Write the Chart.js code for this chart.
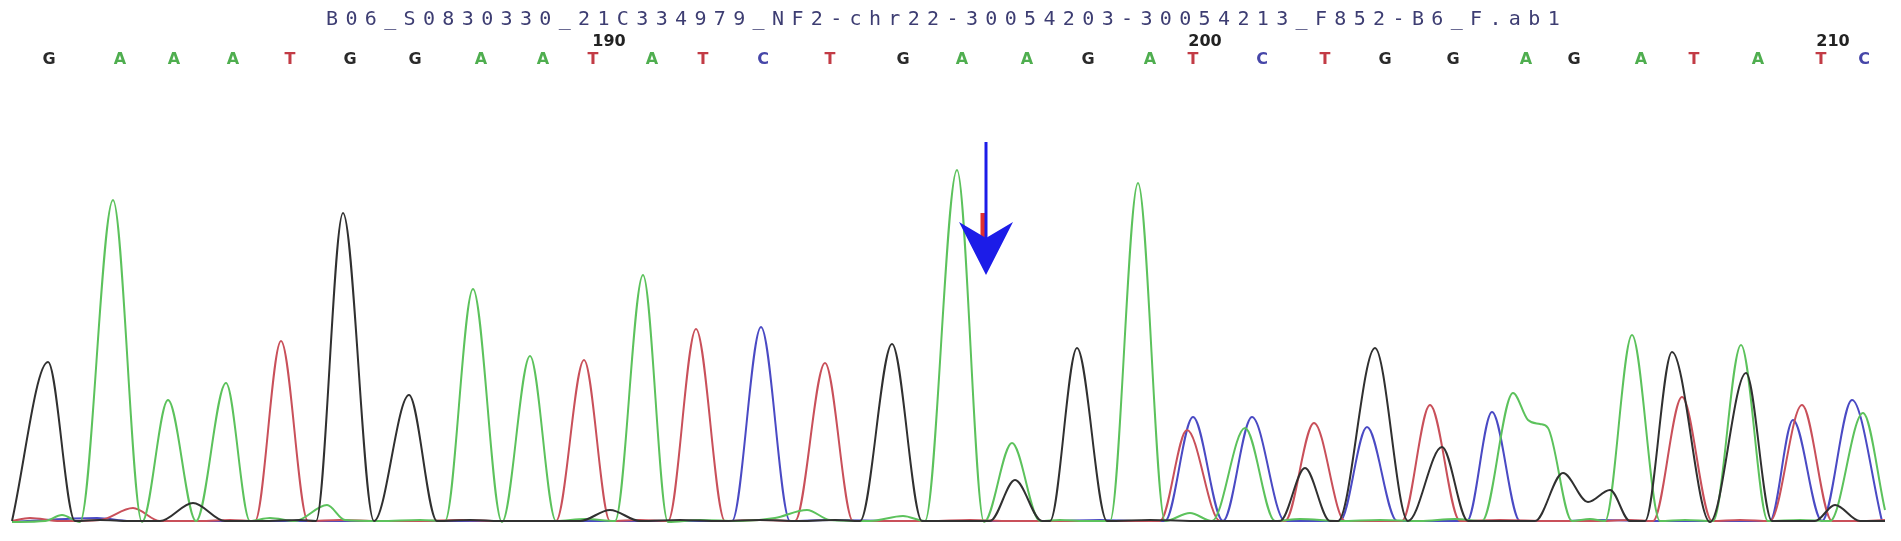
<!DOCTYPE html>
<html>
<head>
<meta charset="utf-8">
<script src="https://cdn.jsdelivr.net/npm/chart.js@4.4.1/dist/chart.umd.min.js"></script>
<style>
  html, body { margin: 0; padding: 0; background: #fff; }
  #wrap { position: relative; width: 1901px; height: 541px; }
  #title {
    position: absolute; left: 326px; top: 8px; z-index: 2;
    font-family: "DejaVu Sans Mono", monospace; font-size: 20px; line-height: 21px;
    letter-spacing: 7.35px; color: #3d3d72; white-space: nowrap;
  }
</style>
</head>
<body>
<div id="wrap">
  <div id="title">B06_S0830330_21C334979_NF2-chr22-30054203-30054213_F852-B6_F.ab1</div>
  <canvas id="trace"></canvas>
</div>
<script>
// Base calls along the top and where they sit on the scan axis
const baseCalls = ["G","A","A","A","T","G","G","A","A","T","A","T","C","T","G","A","A","G","A","T","C","T","G","G","A","G","A","T","A","T","C"];
const basePos = [49,120,174,233,290,350,415,481,543,593,652,703,763,830,903,962,1027,1088,1150,1193,1262,1325,1385,1453,1526,1574,1641,1694,1758,1821,1864];

// Position numbers above the base row
const numberLabels = ["190","200","210"];
const numberPos = [609,1205,1833];

// Trace points [scan, signal]
const traceA = [
  [12,2],[45,3],[62,9],[80,2],[113,324],[142,2],[168,124],[196,3],[226,141],[250,3],[270,6],[295,3],
  [327,19],[345,4],[380,3],[420,4],[445,3],[473,235],[502,2],[530,168],[556,3],[585,5],[615,3],[643,249],
  [668,2],[700,4],[740,3],[775,6],[807,14],[830,4],[870,3],[903,8],[925,3],[957,354],[984,2],[1012,81],
  [1040,3],[1060,4],[1085,3],[1110,3],[1138,341],[1165,3],[1190,11],[1212,3],[1245,96],[1275,3],[1300,5],
  [1340,3],[1380,4],[1420,3],[1455,5],[1482,3],[1513,131],[1528,104],[1540,100],[1548,96],[1572,3],[1590,5],
  [1605,3],[1632,189],[1660,3],[1685,4],[1713,3],[1741,179],[1768,3],[1800,4],[1830,3],[1863,111],[1885,14]
];
const traceG = [
  [12,3],[48,162],[75,3],[100,4],[130,3],[160,3],[193,21],[225,3],[260,3],[300,4],[316,3],[343,311],
  [374,3],[409,129],[437,3],[470,4],[500,3],[540,3],[580,3],[610,14],[640,3],[680,4],[720,3],[760,4],
  [800,3],[835,4],[860,3],[892,180],[922,3],[945,3],[990,3],[1015,44],[1042,3],[1050,3],[1077,176],
  [1107,3],[1150,4],[1200,3],[1250,3],[1280,3],[1305,56],[1330,3],[1338,3],[1375,176],[1408,3],[1442,77],
  [1468,3],[1500,3],[1535,3],[1563,51],[1588,22],[1610,34],[1630,3],[1645,3],[1672,172],[1710,2],
  [1746,151],[1772,3],[1800,3],[1815,3],[1835,19],[1860,3],[1885,3]
];
const traceT = [
  [12,3],[30,6],[60,3],[100,4],[133,16],[160,3],[200,3],[230,4],[255,3],[281,183],[308,3],[340,4],
  [380,3],[420,3],[460,4],[500,3],[530,3],[556,3],[584,164],[610,3],[640,4],[668,3],[696,195],[725,3],
  [760,4],[795,3],[825,161],[853,3],[890,3],[930,3],[970,4],[1010,3],[1060,3],[1110,3],[1160,3],
  [1187,94],[1220,3],[1255,3],[1285,3],[1314,101],[1345,3],[1375,3],[1402,3],[1430,119],[1460,3],
  [1500,4],[1550,3],[1600,3],[1630,4],[1653,3],[1682,127],[1712,3],[1740,4],[1770,3],[1802,119],
  [1832,3],[1860,3],[1885,4]
];
const traceC = [
  [12,2],[97,6],[130,3],[200,3],[300,3],[400,3],[500,3],[600,3],[700,3],[732,3],[761,197],[790,3],
  [830,4],[900,3],[960,3],[1050,3],[1100,4],[1140,3],[1165,3],[1193,107],[1223,3],[1252,107],[1285,3],
  [1310,3],[1340,3],[1367,97],[1397,3],[1440,3],[1467,3],[1492,112],[1520,3],[1560,3],[1600,4],
  [1650,3],[1700,3],[1740,3],[1770,3],[1793,104],[1822,3],[1852,124],[1882,3]
];

const baseColors = { A: "#4fae4f", T: "#c23b45", C: "#4646a8", G: "#2a2a2a" };
const traceColors = { A: "#5cc25c", T: "#c9505a", C: "#4a4ac4", G: "#303030" };

// Marker arrow (scan / signal units)
const arrowX = 986, arrowTop = 382, arrowWing = 302, arrowNotch = 286, arrowTip = 249, arrowHalf = 27;

const arrowPlugin = {
  id: "arrow",
  afterDatasetsDraw(chart) {
    const ctx = chart.ctx, xs = chart.scales.x, ys = chart.scales.y;
    const px = xs.getPixelForValue(arrowX);
    ctx.save();
    // red mark peeking behind the blue arrow
    ctx.strokeStyle = "#e03030";
    ctx.lineWidth = 5;
    ctx.beginPath();
    ctx.moveTo(px - 3, ys.getPixelForValue(311));
    ctx.lineTo(px - 3, ys.getPixelForValue(266));
    ctx.stroke();
    // blue shaft
    ctx.strokeStyle = "#1c1ce8";
    ctx.lineWidth = 3;
    ctx.beginPath();
    ctx.moveTo(px, ys.getPixelForValue(arrowTop));
    ctx.lineTo(px, ys.getPixelForValue(arrowNotch));
    ctx.stroke();
    // head
    ctx.fillStyle = "#1c1ce8";
    ctx.beginPath();
    ctx.moveTo(xs.getPixelForValue(arrowX - arrowHalf), ys.getPixelForValue(arrowWing));
    ctx.lineTo(px, ys.getPixelForValue(arrowNotch));
    ctx.lineTo(xs.getPixelForValue(arrowX + arrowHalf), ys.getPixelForValue(arrowWing));
    ctx.lineTo(px, ys.getPixelForValue(arrowTip));
    ctx.closePath();
    ctx.fill();
    ctx.restore();
  }
};

function traceSet(points, base) {
  return {
    label: base,
    data: points.map(p => ({ x: p[0], y: p[1] })),
    borderColor: traceColors[base],
    borderWidth: 2,
    pointRadius: 0,
    fill: false,
    cubicInterpolationMode: "monotone"
  };
}

new Chart(document.getElementById("trace"), {
  type: "line",
  data: {
    datasets: [traceSet(traceG, "G"), traceSet(traceA, "A"), traceSet(traceT, "T"), traceSet(traceC, "C")]
  },
  options: {
    responsive: true,
    maintainAspectRatio: false,
    animation: false,
    layout: { padding: { top: 30, bottom: 13, left: 0, right: 0 } },
    plugins: { legend: { display: false }, tooltip: { enabled: false } },
    scales: {
      x: {
        type: "linear", position: "top", min: 0, max: 1901, weight: 0,
        grid: { display: false, drawTicks: false }, border: { display: false },
        afterBuildTicks: axis => { axis.ticks = basePos.map(v => ({ value: v })); },
        afterFit: s => { s.height = 18; },
        ticks: {
          autoSkip: false, maxRotation: 0, padding: 0,
          font: { family: "DejaVu Sans", weight: "bold", size: 16, lineHeight: 1 },
          color: c => baseColors[baseCalls[c.index]],
          callback: (v, i) => baseCalls[i]
        }
      },
      x2: {
        type: "linear", position: "top", min: 0, max: 1901, weight: 1,
        grid: { display: false, drawTicks: false }, border: { display: false },
        afterBuildTicks: axis => { axis.ticks = numberPos.map(v => ({ value: v })); },
        afterFit: s => { s.height = 20; },
        ticks: {
          autoSkip: false, maxRotation: 0, padding: 0,
          font: { family: "DejaVu Sans", weight: "bold", size: 16, lineHeight: 1 },
          color: "#222",
          callback: (v, i) => numberLabels[i]
        }
      },
      y: { display: false, min: -4, max: 456 }
    }
  },
  plugins: [arrowPlugin]
});
</script>
</body>
</html>
